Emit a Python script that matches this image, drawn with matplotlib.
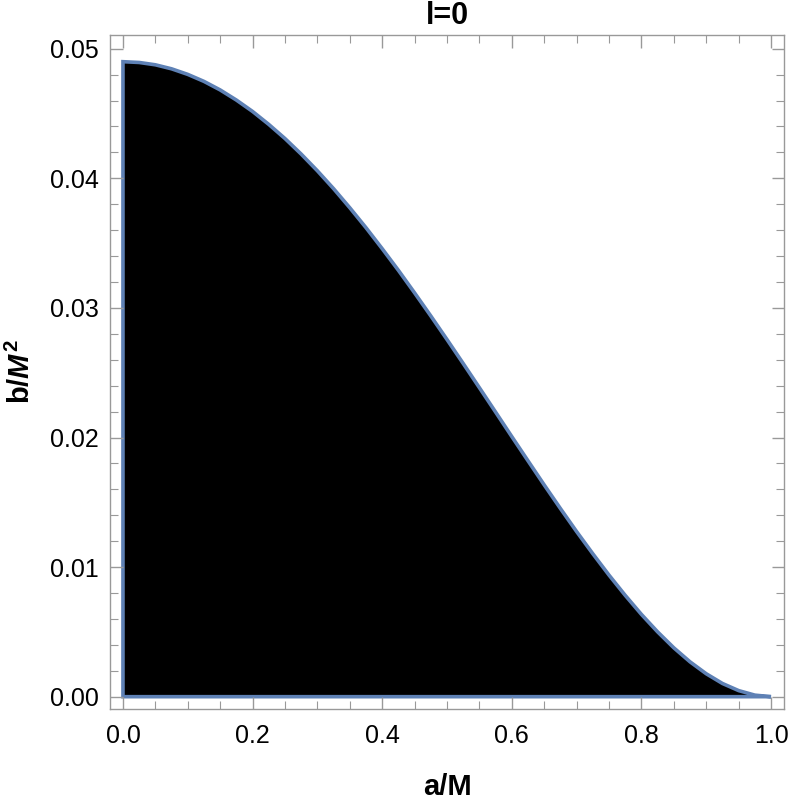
import numpy as np
import matplotlib
matplotlib.use('Agg')
import matplotlib.pyplot as plt
from matplotlib.ticker import MultipleLocator

# boundary of the allowed region
a_vals = [0.000, 0.025, 0.050, 0.075, 0.100, 0.125, 0.150, 0.175, 0.200, 0.225,
          0.250, 0.275, 0.300, 0.325, 0.350, 0.375, 0.400, 0.425, 0.450, 0.475,
          0.500, 0.525, 0.550, 0.575, 0.600, 0.625, 0.650, 0.675, 0.700, 0.725,
          0.750, 0.775, 0.800, 0.825, 0.850, 0.875, 0.900, 0.925, 0.950, 0.975, 1.000]
b_vals = [0.04900, 0.04894, 0.04876, 0.04845, 0.04802, 0.04748, 0.04682, 0.04604, 0.04516, 0.04416,
          0.04307, 0.04187, 0.04058, 0.03920, 0.03773, 0.03619, 0.03457, 0.03290, 0.03116, 0.02938,
          0.02756, 0.02571, 0.02384, 0.02196, 0.02007, 0.01820, 0.01634, 0.01452, 0.01274, 0.01103,
          0.00938, 0.00782, 0.00635, 0.00500, 0.00377, 0.00269, 0.00177, 0.00102, 0.00047, 0.00012, 0.0]

title = 'l=0'
xlabel = 'a/M'
ylabel = r'b/$M^2$'

plt.rcParams['font.family'] = ['Liberation Sans', 'DejaVu Sans']
plt.rcParams['mathtext.fontset'] = 'custom'
plt.rcParams['mathtext.it'] = 'Liberation Sans:italic:bold'
plt.rcParams['mathtext.rm'] = 'Liberation Sans:bold'

edge = '#5E81B5'
frame = '#999999'

fig = plt.figure(figsize=(7.89, 8.01), dpi=100)
ax = fig.add_axes([110/789, 1-709/801, (784-110)/789, (709-35)/801])

# closed outline: curve, then back to the origin along the axes
xs = a_vals + [0.0]
ys = b_vals + [0.0]
ax.fill(xs, ys, facecolor='black', edgecolor=edge, linewidth=2.6, joinstyle='miter')

ax.set_xlim(-0.02, 1.02)
ax.set_ylim(-0.00095, 0.05106)

ax.xaxis.set_major_locator(MultipleLocator(0.2))
ax.xaxis.set_minor_locator(MultipleLocator(0.05))
ax.yaxis.set_major_locator(MultipleLocator(0.01))
ax.yaxis.set_minor_locator(MultipleLocator(0.002))
ax.xaxis.set_major_formatter(plt.FuncFormatter(lambda v, p: '%.1f' % v))
ax.yaxis.set_major_formatter(plt.FuncFormatter(lambda v, p: '%.2f' % v))

ax.tick_params(which='both', direction='in', top=True, right=True, color=frame,
               labelsize=18, labelcolor='black')
ax.tick_params(which='major', length=9, width=1, pad=8)
ax.tick_params(axis='x', which='major', pad=11)
ax.tick_params(which='minor', length=6, width=0.8)
ax.tick_params(axis='both', which='both', labeltop=False, labelright=False)
for s in ax.spines.values():
    s.set_color(frame)
    s.set_linewidth(1)

ax.set_title(title, fontsize=22, fontweight='bold', pad=8)
ax.set_xlabel(xlabel, fontsize=21, fontweight='bold', labelpad=18)
ax.set_ylabel(ylabel, fontsize=21, fontweight='bold', labelpad=10)

plt.savefig('out.png', dpi=100)
plt.close()
